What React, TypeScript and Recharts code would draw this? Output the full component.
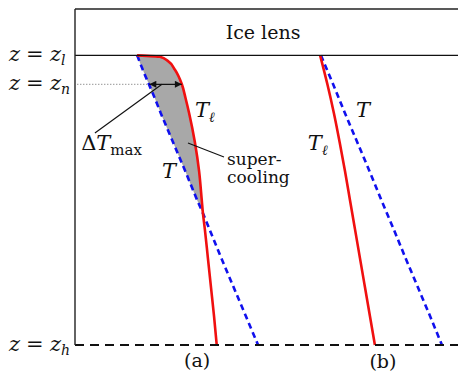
import React from "react";
import {
  ComposedChart,
  Line,
  Area,
  XAxis,
  YAxis,
  ReferenceLine,
  ReferenceDot,
} from "recharts";

// depth levels, z_h = 0 at the bottom, z_l = 1 at the ice lens
const zLevels = [1, 0.995, 0.98, 0.95, 0.9, 0.85, 0.8, 0.7, 0.6, 0.5, 0.455, 0.4, 0.3, 0.2, 0.1, 0];
// (a) temperature T (blue dashed) and liquid temperature T_l (red)
const tempA = [16.2, 16.4, 16.8, 17.7, 19.3, 20.9, 22.4, 25.6, 28.8, 31.9, 33.4, 35.1, 38.2, 41.4, 44.6, 47.8];
const liquidA = [16.2, 22.2, 24.3, 26.1, 27.9, 28.9, 29.8, 31.3, 32.4, 33.1, 33.4, 33.9, 34.7, 35.5, 36.3, 37.0];
// (b) no supercooling
const tempB = [64.2, null, null, null, 67.4, null, 70.5, 73.7, 76.9, 80.0, null, 83.2, 86.3, 89.5, 92.7, 95.8];
const liquidB = [64.0, null, null, null, 65.9, null, 67.6, 69.1, 70.5, 71.8, null, 73.1, 74.4, 75.7, 77.0, 78.3];

const zTop = 1.16;
const zN = 0.9;
const zCross = 0.455;
const zTicks = [0, zN, 1];
const zSub: Record<number, string> = { 0: "h", 0.9: "n", 1: "l" };

const data = zLevels.map((z, i) => ({
  z,
  tA: tempA[i],
  tlA: liquidA[i],
  cool: z >= zCross ? [tempA[i], liquidA[i]] : null,
  tB: tempB[i],
  tlB: liquidB[i],
}));

const FONT = "DejaVu Serif";
const INK = "#111";

const ZTick = (props: any) => {
  const { x, y, payload } = props;
  const x0 = x - 58;
  return (
    <g fontFamily={FONT} fontSize={21} fill={INK}>
      <text x={x0} y={y + 6} fontStyle="italic">z</text>
      <text x={x0 + 17} y={y + 6}>=</text>
      <text x={x0 + 41} y={y + 6} fontStyle="italic">z</text>
      <text x={x0 + 52} y={y + 10} fontSize={14} fontStyle="italic">{zSub[payload.value]}</text>
    </g>
  );
};

const note =
  (content: React.ReactNode, anchor: "start" | "middle" = "start", size = 21) =>
  (p: any) =>
    (
      <text x={p.cx} y={p.cy} textAnchor={anchor} fontFamily={FONT} fontSize={size} fill={INK}>
        {typeof content === "function" ? (content as any)(p.cx) : content}
      </text>
    );

const tLiquid = (
  <>
    <tspan fontStyle="italic">T</tspan>
    <tspan fontStyle="italic" fontSize={14} dy={5}>ℓ</tspan>
  </>
);

export default function App() {
  return (
    <div style={{ position: "absolute", left: 0, top: 0, background: "#fff" }}>
      <ComposedChart
        layout="vertical"
        width={458}
        height={375}
        data={data}
        margin={{ top: 9, right: 0, bottom: 30, left: 0 }}
      >
        <defs>
          <marker
            id="head"
            viewBox="0 0 10 10"
            refX="10"
            refY="5"
            markerWidth="8"
            markerHeight="7"
            markerUnits="userSpaceOnUse"
            orient="auto-start-reverse"
          >
            <path d="M0,0 L10,5 L0,10 z" fill={INK} />
          </marker>
        </defs>
        <XAxis type="number" domain={[0, 100]} hide />
        <YAxis
          type="number"
          dataKey="z"
          domain={[0, zTop]}
          reversed
          ticks={zTicks}
          width={75}
          tickLine={false}
          axisLine={{ stroke: "#222", strokeWidth: 1.4 }}
          tick={<ZTick />}
        />
        <Area
          dataKey="cool"
          type="monotone"
          fill="#a8a8a8"
          fillOpacity={1}
          stroke="none"
          isAnimationActive={false}
        />
        <Line dataKey="tA" type="linear" stroke="#1010ee" strokeWidth={2.6} strokeDasharray="6 4" dot={false} activeDot={false} connectNulls isAnimationActive={false} />
        <Line dataKey="tB" type="linear" stroke="#1010ee" strokeWidth={2.6} strokeDasharray="6 4" dot={false} activeDot={false} connectNulls isAnimationActive={false} />
        <Line dataKey="tlA" type="monotone" stroke="#f01010" strokeWidth={2.6} dot={false} activeDot={false} connectNulls isAnimationActive={false} />
        <Line dataKey="tlB" type="monotone" stroke="#f01010" strokeWidth={2.6} dot={false} activeDot={false} connectNulls isAnimationActive={false} />

        <ReferenceLine y={zTop} stroke="#222" strokeWidth={1.4} />
        <ReferenceLine y={1} stroke={INK} strokeWidth={1.4} />
        <ReferenceLine y={0} stroke={INK} strokeWidth={2} strokeDasharray="9 6" />
        <ReferenceLine
          segment={[{ x: 0.6, y: zN }, { x: 18.8, y: zN }]}
          stroke="#666"
          strokeWidth={1}
          strokeDasharray="1 2"
          ifOverflow="visible"
        />
        <ReferenceLine
          segment={[{ x: 19.4, y: zN }, { x: 27.9, y: zN }]}
          stroke={INK}
          strokeWidth={1.2}
          markerStart="url(#head)"
          markerEnd="url(#head)"
          ifOverflow="visible"
        />
        <ReferenceLine segment={[{ x: 5.2, y: 0.732 }, { x: 22.7, y: zN }]} stroke={INK} strokeWidth={1.2} ifOverflow="visible" />
        <ReferenceLine segment={[{ x: 29.5, y: 0.697 }, { x: 38.9, y: 0.649 }]} stroke={INK} strokeWidth={1.1} ifOverflow="visible" />

        <ReferenceDot x={49.1} y={1.056} r={0} ifOverflow="visible" shape={note("Ice lens", "middle", 19)} />
        <ReferenceDot x={31.3} y={0.787} r={0} ifOverflow="visible" shape={note(tLiquid)} />
        <ReferenceDot x={22.7} y={0.576} r={0} ifOverflow="visible" shape={note(<tspan fontStyle="italic">T</tspan>)} />
        <ReferenceDot
          x={1.6}
          y={0.673}
          r={0}
          ifOverflow="visible"
          shape={note(
            <>
              <tspan>Δ</tspan>
              <tspan fontStyle="italic">T</tspan>
              <tspan fontSize={15} dy={5}>max</tspan>
            </>
          )}
        />
        <ReferenceDot
          x={39.7}
          y={0.621}
          r={0}
          ifOverflow="visible"
          shape={note(
            ((cx: number) => (
              <>
                <tspan>super-</tspan>
                <tspan x={cx} dy={18}>cooling</tspan>
              </>
            )) as any,
            "start",
            17
          )}
        />
        <ReferenceDot x={73.4} y={0.787} r={0} ifOverflow="visible" shape={note(<tspan fontStyle="italic">T</tspan>)} />
        <ReferenceDot x={60.8} y={0.673} r={0} ifOverflow="visible" shape={note(tLiquid)} />
        <ReferenceDot x={31.9} y={-0.076} r={0} ifOverflow="visible" shape={note("(a)", "middle", 19)} />
        <ReferenceDot x={80.4} y={-0.079} r={0} ifOverflow="visible" shape={note("(b)", "middle", 19)} />
      </ComposedChart>
    </div>
  );
}
